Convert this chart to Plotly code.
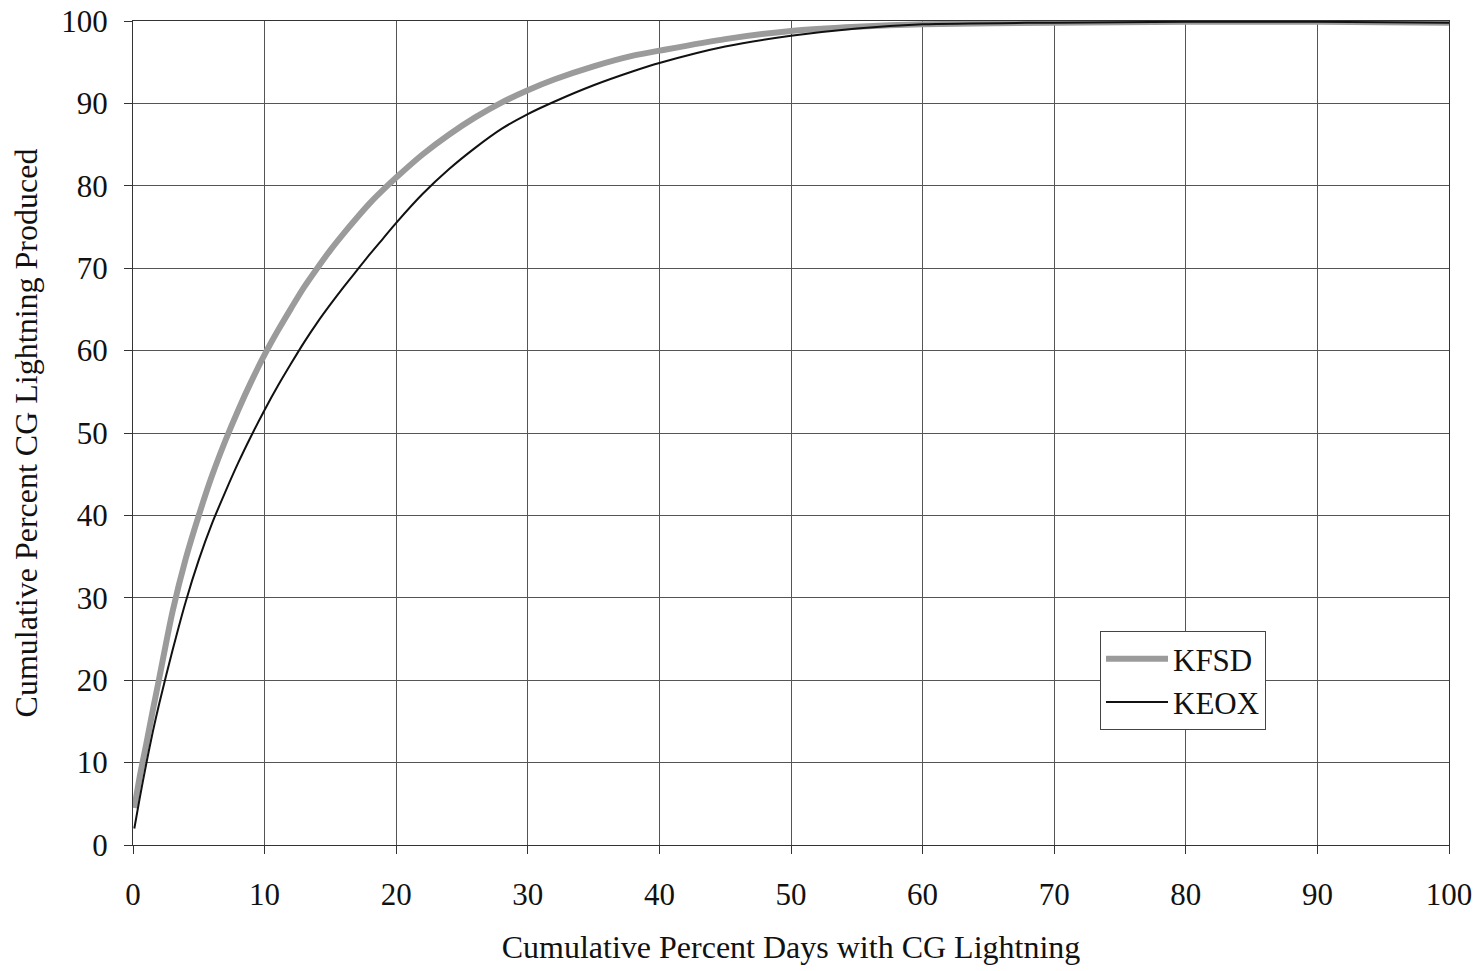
import plotly.graph_objects as go

# Cumulative percent days with CG lightning (x) vs cumulative percent CG lightning produced
x_kfsd = [0.1, 0.5, 1, 1.5, 2, 3, 4, 5, 6, 7, 8, 9, 10, 11, 12, 13, 14, 15, 16, 17, 18, 19, 20,
          22, 24, 26, 28, 30, 32, 35, 38, 40, 45, 50, 55, 60, 70, 80, 90, 100]
y_kfsd = [4.5, 8.2, 12.2, 16.3, 20.3, 28.3, 34.7, 40, 44.8, 49, 52.8, 56.3, 59.5, 62.4, 65.1, 67.7, 70,
          72.2, 74.2, 76.1, 77.9, 79.5, 81, 83.8, 86.2, 88.3, 90.1, 91.6, 92.9, 94.5, 95.8, 96.4,
          97.8, 98.8, 99.3, 99.6, 99.8, 99.9, 99.9, 99.8]

x_keox = [0.1, 0.5, 1, 1.5, 2, 3, 4, 5, 6, 7, 8, 9, 10, 11, 12, 13, 14, 15, 16, 17, 18, 19, 20,
          22, 24, 26, 28, 30, 32, 35, 38, 40, 45, 50, 55, 60, 70, 80, 90, 100]
y_keox = [2, 5.6, 9.8, 13.7, 17.2, 23.6, 29.5, 34.6, 39, 42.8, 46.4, 49.7, 52.8, 55.7, 58.4, 61, 63.4,
          65.6, 67.7, 69.7, 71.7, 73.6, 75.5, 79, 82, 84.6, 86.9, 88.7, 90.2, 92.2, 93.9, 94.9,
          96.9, 98.2, 99.1, 99.6, 99.8, 99.9, 99.9, 99.8]

x_ticks = [0, 10, 20, 30, 40, 50, 60, 70, 80, 90, 100]
y_ticks = [0, 10, 20, 30, 40, 50, 60, 70, 80, 90, 100]

FONT = "Liberation Serif, Times New Roman, serif"

fig = go.Figure()
fig.add_trace(go.Scatter(x=x_kfsd, y=y_kfsd, mode="lines", name="KFSD", legendgroup="a",
                         line=dict(color="#9b9b9b", width=6, shape="spline", smoothing=0.8)))
fig.add_trace(go.Scatter(x=x_keox, y=y_keox, mode="lines", name="KEOX", legendgroup="b",
                         line=dict(color="#111111", width=2, shape="spline", smoothing=0.8)))

axis_common = dict(
    showgrid=True, gridcolor="#555555", gridwidth=1,
    showline=True, linecolor="#333333", linewidth=1, mirror=True,
    zeroline=False, ticks="outside", ticklen=8, tickcolor="#333333",
    tickfont=dict(family=FONT, size=31, color="#111111"),
    automargin=False,
)

fig.update_xaxes(range=[0, 100], tickvals=x_ticks, ticktext=[str(v) for v in x_ticks],
                 ticklabelstandoff=14,
                 title=dict(text="Cumulative Percent Days with CG Lightning",
                            font=dict(family=FONT, size=32, color="#111111"), standoff=24),
                 **axis_common)
fig.update_yaxes(range=[0, 100], tickvals=y_ticks, ticktext=[str(v) for v in y_ticks],
                 ticklabelstandoff=10,
                 title=dict(text="Cumulative Percent CG Lightning Produced",
                            font=dict(family=FONT, size=32, color="#111111"), standoff=14),
                 **axis_common)

fig.update_layout(
    width=1483, height=971,
    margin=dict(l=133, r=34, t=21, b=126),
    paper_bgcolor="white", plot_bgcolor="white",
    showlegend=True,
    legend=dict(x=0.7348, y=0.2597, xanchor="left", yanchor="top",
                bgcolor="white", bordercolor="#444444", borderwidth=1,
                font=dict(family=FONT, size=31, color="#111111"),
                traceorder="grouped", tracegroupgap=0, itemwidth=62),
)

fig.write_html("out.html")
